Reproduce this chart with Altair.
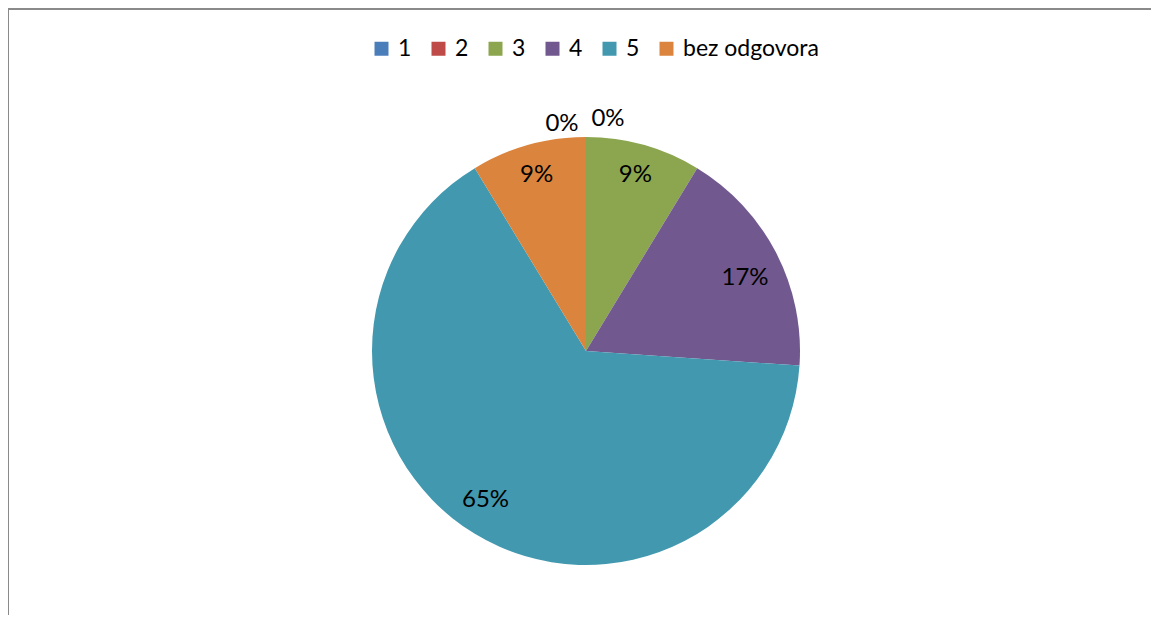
import altair as alt
import pandas as pd

categories = ["1", "2", "3", "4", "5", "bez odgovora"]
counts = [0, 0, 2, 4, 15, 2]
labels = ["0%", "0%", "9%", "17%", "65%", "9%"]
colors = ["#4A7EBB", "#BE4B48", "#8BA64E", "#71588F", "#4198AF", "#DB843D"]

df = pd.DataFrame({
    "kategorija": categories,
    "n": counts,
    "label": labels,
    "idx": list(range(len(categories))),
})

W, H = 1143, 607
CX, CY = 578, 343
FONT = "Lato"

color = alt.Color(
    "kategorija:N",
    scale=alt.Scale(domain=categories, range=colors),
    sort=categories,
    legend=alt.Legend(
        title=None,
        orient="none",
        direction="horizontal",
        legendX=362,
        legendY=29,
        symbolType="square",
        symbolSize=196,
        symbolStrokeWidth=0,
        labelFontSize=23,
        labelFont=FONT,
        labelColor="#000000",
        labelOffset=5,
        columnPadding=15,
        padding=0,
    ),
)

pie = alt.Chart(df).mark_arc(outerRadius=214, stroke=None).encode(
    theta=alt.Theta("n:Q", stack=True),
    order=alt.Order("idx:Q"),
    color=color,
    x=alt.value(CX),
    y=alt.value(CY),
)

# label positions: mid-angle fraction of each slice, computed before filtering
lab = alt.Chart(df).transform_window(
    cum="sum(n)", sort=[alt.SortField("idx")], frame=[None, 0]
).transform_joinaggregate(
    total="sum(n)"
).transform_calculate(
    frac="(datum.cum - datum.n / 2) / datum.total"
)

theta_lab = alt.Theta("frac:Q", scale=alt.Scale(domain=[0, 1]), stack=None)


def text_layer(flt, radius, dx=0, dy=0):
    return lab.transform_filter(flt).mark_text(
        radius=radius, dx=dx, dy=dy, fontSize=24, font=FONT, color="#000000"
    ).encode(theta=theta_lab, text="label:N", x=alt.value(CX), y=alt.value(CY))


nine = text_layer((alt.datum.kategorija == "3") | (alt.datum.kategorija == "bez odgovora"), 183)
seventeen = text_layer(alt.datum.kategorija == "4", 178, dx=1, dy=9)
big = text_layer(alt.datum.kategorija == "5", 178, dx=-8, dy=-3)
zero1 = text_layer(alt.datum.kategorija == "1", 230, dx=-24, dy=3)
zero2 = text_layer(alt.datum.kategorija == "2", 230, dx=22, dy=-2)

frame_left = alt.Chart(df).mark_rule(color="#8a8a8a", strokeWidth=2).encode(
    x=alt.value(0), y=alt.value(0), y2=alt.value(H)
)
frame_top = alt.Chart(df).mark_rule(color="#8a8a8a", strokeWidth=2).encode(
    x=alt.value(0), x2=alt.value(W), y=alt.value(1)
)

chart = alt.layer(pie, nine, seventeen, big, zero1, zero2, frame_left, frame_top).resolve_scale(
    theta="independent"
).properties(
    width=W,
    height=H,
    autosize=alt.AutoSizeParams(type="none"),
    padding=0,
    background="#ffffff",
).configure_view(stroke=None)

chart.save("out.html", embed_options={"renderer": "svg", "actions": False})
